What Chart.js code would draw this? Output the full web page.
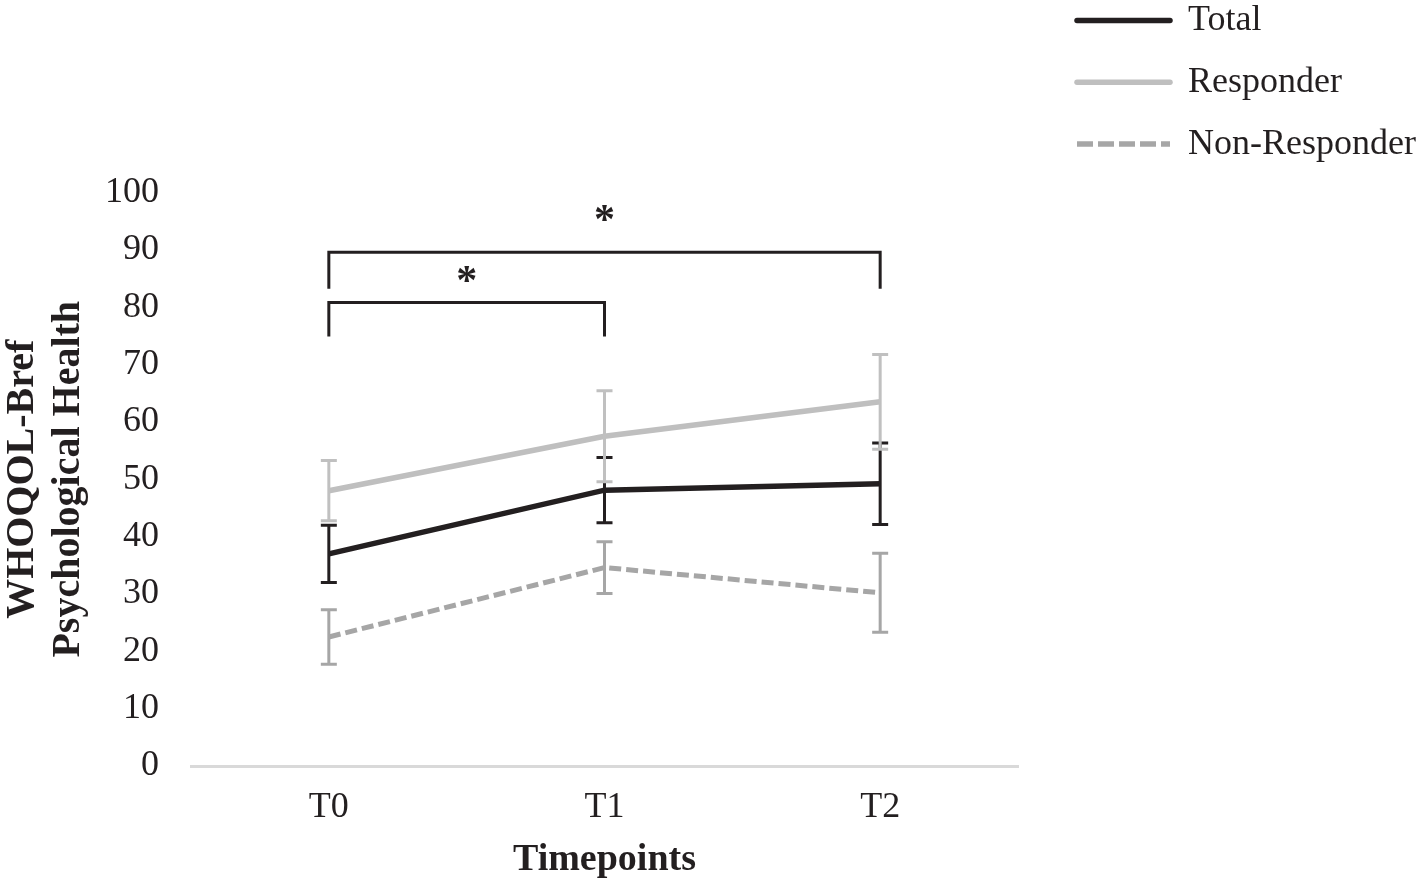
<!DOCTYPE html>
<html lang="en">
<head>
    <meta charset="utf-8">
    <script src="https://cdn.jsdelivr.net/npm/chart.js"></script>
    <style>
        html, body {
            margin: 0;
            padding: 0;
            background: #ffffff;
        }

        #container {
            width: 1421px;
            height: 883px;
            position: relative;
        }
    </style>
</head>
<body>
    <div id="container">
        <canvas id="myChart"></canvas>
    </div>

    <script>
        const timepoints = ['T0', 'T1', 'T2'];
        const yTicks = [0, 10, 20, 30, 40, 50, 60, 70, 80, 90, 100];

        const totalMean = [37.0, 48.1, 49.2];
        const totalErr = [5.0, 5.7, 7.1];
        const responderMean = [48.0, 57.5, 63.5];
        const responderErr = [5.25, 7.95, 8.25];
        const nonResponderMean = [22.5, 34.6, 30.2];
        const nonResponderErr = [4.75, 4.5, 6.9];

        // significance brackets: category index from / to, top of bracket and end of legs (y units)
        const bracketFrom = [0, 0];
        const bracketTo = [1, 2];
        const bracketTop = [80.8, 89.6];
        const bracketLeg = [74.9, 83.2];
        const starLevel = [86.2, 96.7];

        const serif = "'Liberation Serif', 'Times New Roman', serif";
        const ink = '#231f20';

        // error bars drawn on top of the lines
        const errorBars = {
            id: 'errorBars',
            afterDatasetsDraw(chart) {
                const ctx = chart.ctx;
                const xs = chart.scales.x;
                const ys = chart.scales.y;
                const order = [2, 0, 1]; // non-responder, total, responder on top
                order.forEach(function (k) {
                    const ds = chart.data.datasets[k];
                    ctx.save();
                    ctx.strokeStyle = ds.errorColor;
                    ctx.lineWidth = 3;
                    ds.data.forEach(function (v, i) {
                        const px = xs.getPixelForValue(i);
                        const top = ys.getPixelForValue(v + ds.errors[i]);
                        const bot = ys.getPixelForValue(v - ds.errors[i]);
                        ctx.beginPath();
                        ctx.moveTo(px, top);
                        ctx.lineTo(px, bot);
                        ctx.moveTo(px - 8, top);
                        ctx.lineTo(px + 8, top);
                        ctx.moveTo(px - 8, bot);
                        ctx.lineTo(px + 8, bot);
                        ctx.stroke();
                    });
                    ctx.restore();
                });
            }
        };

        // brackets with asterisks
        const brackets = {
            id: 'brackets',
            afterDatasetsDraw(chart) {
                const ctx = chart.ctx;
                const xs = chart.scales.x;
                const ys = chart.scales.y;
                ctx.save();
                ctx.strokeStyle = ink;
                ctx.lineWidth = 3;
                ctx.lineCap = 'butt';
                ctx.lineJoin = 'miter';
                for (let i = 0; i < bracketFrom.length; i++) {
                    const x1 = xs.getPixelForValue(bracketFrom[i]);
                    const x2 = xs.getPixelForValue(bracketTo[i]);
                    const yt = ys.getPixelForValue(bracketTop[i]);
                    const yl = ys.getPixelForValue(bracketLeg[i]);
                    ctx.beginPath();
                    ctx.moveTo(x1, yl);
                    ctx.lineTo(x1, yt);
                    ctx.lineTo(x2, yt);
                    ctx.lineTo(x2, yl);
                    ctx.stroke();

                    ctx.fillStyle = ink;
                    ctx.font = 'bold 42px ' + serif;
                    ctx.textAlign = 'center';
                    ctx.textBaseline = 'alphabetic';
                    ctx.fillText('*', (x1 + x2) / 2, ys.getPixelForValue(starLevel[i]) + 22);
                }
                ctx.restore();
            }
        };

        // legend in the top right corner
        const sideLegend = {
            id: 'sideLegend',
            afterDraw(chart) {
                const ctx = chart.ctx;
                const x0 = chart.chartArea.right + 57;
                chart.data.datasets.forEach(function (ds, i) {
                    const yy = 20.5 + i * 61.8;
                    ctx.save();
                    ctx.strokeStyle = ds.borderColor;
                    ctx.lineWidth = 5.5;
                    if (ds.borderDash) {
                        ctx.setLineDash([16, 5]);
                        ctx.lineCap = 'butt';
                    } else {
                        ctx.lineCap = 'round';
                    }
                    ctx.beginPath();
                    ctx.moveTo(x0 + 2, yy);
                    ctx.lineTo(x0 + 95, yy);
                    ctx.stroke();
                    ctx.restore();

                    ctx.save();
                    ctx.fillStyle = ink;
                    ctx.font = '36px ' + serif;
                    ctx.textAlign = 'left';
                    ctx.textBaseline = 'middle';
                    ctx.fillText(ds.label, x0 + 113, yy);
                    ctx.restore();
                });
            }
        };

        const ctx1 = document.getElementById('myChart').getContext('2d');

        const chart = new Chart(ctx1, {
            type: 'line',
            data: {
                labels: timepoints,
                datasets: [{
                    label: 'Total',
                    data: totalMean,
                    errors: totalErr,
                    errorColor: ink,
                    borderColor: ink,
                    borderWidth: 5.5,
                    pointRadius: 0,
                    fill: false,
                    order: 2
                }, {
                    label: 'Responder',
                    data: responderMean,
                    errors: responderErr,
                    errorColor: '#c0c0c0',
                    borderColor: '#bfbfbf',
                    borderWidth: 5.5,
                    pointRadius: 0,
                    fill: false,
                    order: 1
                }, {
                    label: 'Non-Responder',
                    data: nonResponderMean,
                    errors: nonResponderErr,
                    errorColor: '#a6a6a6',
                    borderColor: '#a6a6a6',
                    borderWidth: 5,
                    borderDash: [12, 5],
                    pointRadius: 0,
                    fill: false,
                    order: 3
                }]
            },
            options: {
                responsive: true,
                maintainAspectRatio: false,
                animation: false,
                layout: {
                    padding: { top: 192.5, right: 403, bottom: 0, left: 0 }
                },
                plugins: {
                    legend: { display: false },
                    tooltip: { enabled: false }
                },
                scales: {
                    x: {
                        offset: true,
                        grid: { display: false, drawTicks: false },
                        border: { display: true, color: '#d9d9d9', width: 3 },
                        ticks: {
                            font: { family: serif, size: 36 },
                            color: ink,
                            padding: 20
                        },
                        title: {
                            display: true,
                            text: 'Timepoints',
                            font: { family: serif, size: 38, weight: 'bold' },
                            color: ink,
                            padding: { top: 0, bottom: 0 }
                        },
                        afterFit(scale) {
                            scale.height = 117;
                        }
                    },
                    y: {
                        min: 0,
                        max: 100,
                        afterBuildTicks(scale) {
                            scale.ticks = yTicks.map(v => ({ value: v }));
                        },
                        grid: { display: false, drawTicks: false },
                        border: { display: false },
                        ticks: {
                            font: { family: serif, size: 36 },
                            color: ink,
                            padding: 32
                        },
                        title: {
                            display: true,
                            text: ['WHOQOL-Bref', 'Psychological Health'],
                            font: { family: serif, size: 40, weight: 'bold', lineHeight: 1.15 },
                            color: ink,
                            padding: { top: 0, bottom: 0 }
                        },
                        afterFit(scale) {
                            scale.width = 191;
                        }
                    }
                }
            },
            plugins: [errorBars, brackets, sideLegend]
        });
    </script>
</body>
</html>
